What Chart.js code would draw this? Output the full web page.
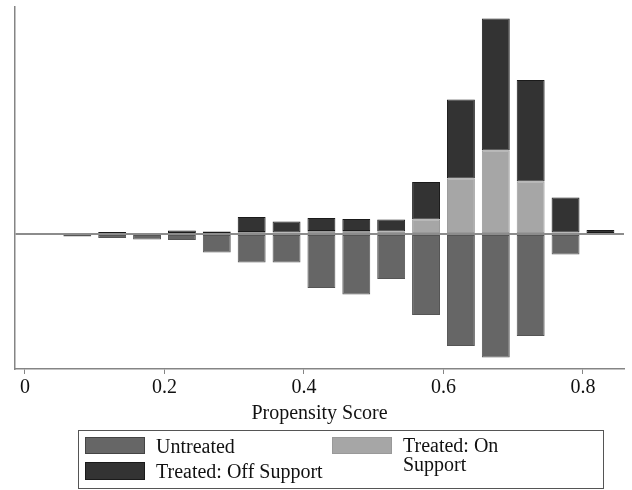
<!DOCTYPE html>
<html>
<head>
<meta charset="utf-8">
<script src="https://cdn.jsdelivr.net/npm/chart.js@4"></script>
<style>
  body { margin: 0; background: #fff; }
  #wrap { position: relative; width: 632px; height: 490px; font-family: "Liberation Serif", "DejaVu Serif", serif; color: #111; }
  #chart { position: absolute; left: 0; top: 0; }
  .legend-box { position: absolute; left: 78px; top: 430px; width: 524px; height: 57px; border: 1px solid #555; }
  .sw { position: absolute; width: 60px; height: 17px; box-sizing: border-box; border: 1px solid #444; }
  .lt { position: absolute; font-size: 20px; line-height: 24px; white-space: nowrap; }
</style>
</head>
<body>
<div id="wrap">
  <canvas id="chart" width="632" height="490"></canvas>
  <div class="legend-box"></div>
  <div class="sw" style="left:85px; top:437px; background:#666666;"></div>
  <div class="lt" style="left:156px; top:434px;">Untreated</div>
  <div class="sw" style="left:85px; top:462px; height:18px; background:#333333; border-color:#1a1a1a;"></div>
  <div class="lt" style="left:156px; top:459px;">Treated: Off Support</div>
  <div class="sw" style="left:332px; top:437px; background:#a6a6a6; border-color:#999;"></div>
  <div class="lt" style="left:403px; top:436px; line-height:19px;">Treated: On<br>Support</div>
</div>
<script>
document.addEventListener('DOMContentLoaded', function() {
    const ctx = document.getElementById('chart').getContext('2d');

    // Bin midpoints of the propensity score
    const bins = [0.075, 0.125, 0.175, 0.225, 0.275, 0.325, 0.375, 0.425,
                  0.475, 0.525, 0.575, 0.625, 0.675, 0.725, 0.775, 0.825];
    // Frequencies (untreated drawn downwards)
    const untreated  = [-2.5, -4, -5.5, -6, -18.5, -28.5, -28.5, -54, -60.5, -45, -81, -112, -123.5, -102, -20.5, 0];
    const onSupport  = [0, 0, 0, 0, 0, 2, 1.5, 3, 3, 2.5, 14.5, 55.5, 83.5, 52.5, 1.5, 0];
    const offSupport = [0, 2, 0, 3.5, 2.5, 15, 11, 13, 12, 12, 37.5, 79, 132, 101.5, 35, 4];
    const xTicks = [0, 0.2, 0.4, 0.6, 0.8];

    const toPoints = arr => arr.map((v, i) => ({ x: bins[i], y: v }));
    const axisColor = '#858585';
    const font = { family: '"Liberation Serif", serif', size: 20 };

    new Chart(ctx, {
        type: 'bar',
        data: {
            datasets: [
                { label: 'Untreated', data: toPoints(untreated),
                  backgroundColor: '#666666', borderColor: '#555555' },
                { label: 'Treated: On Support', data: toPoints(onSupport),
                  backgroundColor: '#a6a6a6', borderColor: '#999999' },
                { label: 'Treated: Off Support', data: toPoints(offSupport),
                  backgroundColor: '#333333', borderColor: '#1a1a1a' }
            ]
        },
        options: {
            responsive: false,
            animation: false,
            layout: { padding: { left: 15, right: 8, top: 7, bottom: 60 } },
            datasets: {
                bar: { barPercentage: 0.8, categoryPercentage: 1, borderWidth: 1, borderSkipped: false }
            },
            plugins: { legend: { display: false }, tooltip: { enabled: false } },
            scales: {
                x: {
                    type: 'linear',
                    stacked: true,
                    min: -0.0143,
                    max: 0.8588,
                    offset: false,
                    afterBuildTicks: s => { s.ticks = xTicks.map(v => ({ value: v })); },
                    ticks: { font: font, color: '#111', padding: 2, includeBounds: false,
                             callback: v => String(v) },
                    grid: { offset: false, drawOnChartArea: false, drawTicks: true, tickLength: 5, color: axisColor },
                    border: { display: true, color: axisColor, width: 1.5 },
                    title: { display: true, text: 'Propensity Score', font: font, color: '#111',
                             padding: { top: 0, bottom: 4 } }
                },
                y: {
                    stacked: true,
                    min: -135,
                    max: 227,
                    z: 1,
                    afterBuildTicks: s => { s.ticks = [{ value: 0 }]; },
                    ticks: { display: false },
                    grid: { offset: false, drawTicks: false, color: '#8c8c8c', lineWidth: 2 },
                    border: { display: true, color: axisColor, width: 1.5 }
                }
            }
        }
    });
});
</script>
</body>
</html>
